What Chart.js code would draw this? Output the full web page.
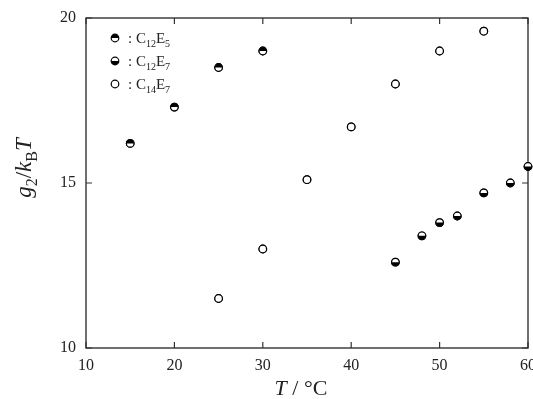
<!DOCTYPE html>
<html lang="en">
<head>
<meta charset="UTF-8">
<title>g2/kBT vs T</title>
<script src="https://cdn.jsdelivr.net/npm/chart.js@4"></script>
<style>
  html, body { margin: 0; padding: 0; background: #fff; }
</style>
</head>
<body>
<canvas id="chart" width="533" height="399"></canvas>
<script>
// data
const c12e5Temp = [15, 20, 25, 30];
const c12e5G2 = [16.2, 17.3, 18.5, 19.0];
const c12e7Temp = [45, 48, 50, 52, 55, 58, 60];
const c12e7G2 = [12.6, 13.4, 13.8, 14.0, 14.7, 15.0, 15.5];
const c14e7Temp = [25, 30, 35, 40, 45, 50, 55];
const c14e7G2 = [11.5, 13.0, 15.1, 16.7, 18.0, 19.0, 19.6];
const xTicks = [10, 20, 30, 40, 50, 60];
const yTicks = [10, 15, 20];
// legend labels: [main, sub, main, sub]
const seriesLabels = [
  ['C', '12', 'E', '5'],
  ['C', '12', 'E', '7'],
  ['C', '14', 'E', '7']
];
const halfFills = ['top', 'bottom', 'none'];

const SERIF = '"Liberation Serif", "DejaVu Serif", serif';
const INK = '#222';
const R = 3.8;

// one marker: white disc, optional black half, black ring
function drawMarker(ctx, x, y, fill) {
  ctx.save();
  ctx.fillStyle = '#fff';
  ctx.beginPath(); ctx.arc(x, y, R, 0, Math.PI * 2); ctx.fill();
  if (fill !== 'none') {
    ctx.fillStyle = '#000';
    ctx.beginPath();
    if (fill === 'top') ctx.arc(x, y, R, Math.PI, Math.PI * 2);
    else ctx.arc(x, y, R, 0, Math.PI);
    ctx.closePath(); ctx.fill();
  }
  ctx.strokeStyle = '#000';
  ctx.lineWidth = 1.2;
  ctx.beginPath(); ctx.arc(x, y, R, 0, Math.PI * 2); ctx.stroke();
  ctx.restore();
}

function toPoints(xs, ys) {
  return xs.map((x, i) => ({ x: x, y: ys[i] }));
}

// draws a run of text parts: {t, it, sub}
function drawRich(ctx, parts, x, y, size) {
  const fontFor = p => {
    const s = p.sub ? Math.round(size * 0.68) : size;
    return (p.it ? 'italic ' : '') + s + 'px ' + SERIF;
  };
  let w = 0;
  parts.forEach(p => { ctx.font = fontFor(p); w += ctx.measureText(p.t).width; });
  let cx = x - w / 2;
  ctx.textAlign = 'left';
  ctx.textBaseline = 'alphabetic';
  parts.forEach(p => {
    ctx.font = fontFor(p);
    ctx.fillText(p.t, cx, y + (p.sub ? size * 0.25 : 0));
    cx += ctx.measureText(p.t).width;
  });
}

const framePlugin = {
  id: 'frame',
  beforeDatasetsDraw(chart) {
    const { ctx, chartArea: a, scales } = chart;
    ctx.save();
    ctx.strokeStyle = '#333';
    ctx.lineWidth = 1.4;
    ctx.strokeRect(a.left, a.top, a.right - a.left, a.bottom - a.top);
    ctx.lineWidth = 1.2;
    ctx.beginPath();
    xTicks.forEach(v => {
      const px = scales.x.getPixelForValue(v);
      ctx.moveTo(px, a.bottom); ctx.lineTo(px, a.bottom - 6);
      ctx.moveTo(px, a.top); ctx.lineTo(px, a.top + 6);
    });
    yTicks.forEach(v => {
      const py = scales.y.getPixelForValue(v);
      ctx.moveTo(a.left, py); ctx.lineTo(a.left + 6, py);
      ctx.moveTo(a.right, py); ctx.lineTo(a.right - 6, py);
    });
    ctx.stroke();
    ctx.restore();
  },
  afterDatasetsDraw(chart) {
    // repaint points with their half fills at the positions chart.js computed
    chart.data.datasets.forEach((ds, di) => {
      chart.getDatasetMeta(di).data.forEach(pt => {
        drawMarker(chart.ctx, pt.x, pt.y, halfFills[di]);
      });
    });
  },
  afterDraw(chart) {
    const { ctx } = chart;
    ctx.save();
    ctx.fillStyle = INK;
    // x title
    drawRich(ctx, [
      { t: 'T', it: true }, { t: ' / ' }, { t: '°C' }
    ], 301, 395, 22);
    // y title, rotated
    ctx.save();
    ctx.translate(31, 168);
    ctx.rotate(-Math.PI / 2);
    drawRich(ctx, [
      { t: 'g', it: true }, { t: '2', sub: true }, { t: '/' },
      { t: 'k', it: true }, { t: 'B', sub: true }, { t: 'T', it: true }
    ], 0, 0, 23);
    ctx.restore();
    // legend
    const rows = [38, 61, 84];
    seriesLabels.forEach((lab, i) => {
      drawMarker(ctx, 115, rows[i], halfFills[i]);
      const parts = [
        { t: ': ' + lab[0] }, { t: lab[1], sub: true },
        { t: lab[2] }, { t: lab[3], sub: true }
      ];
      let w = 0;
      parts.forEach(p => {
        ctx.font = (p.sub ? 10 : 15) + 'px ' + SERIF;
        w += ctx.measureText(p.t).width;
      });
      ctx.fillStyle = INK;
      drawRich(ctx, parts, 128 + w / 2, rows[i] + 5, 15);
    });
    ctx.restore();
  }
};

const tickFont = { family: SERIF, size: 16 };
const pointOpts = {
  pointStyle: 'circle', pointRadius: R, pointBorderWidth: 1.2,
  pointBorderColor: '#000', pointBackgroundColor: '#fff', clip: false
};

new Chart(document.getElementById('chart'), {
  type: 'scatter',
  data: {
    datasets: [
      Object.assign({ label: 'C12E5', data: toPoints(c12e5Temp, c12e5G2) }, pointOpts),
      Object.assign({ label: 'C12E7', data: toPoints(c12e7Temp, c12e7G2) }, pointOpts),
      Object.assign({ label: 'C14E7', data: toPoints(c14e7Temp, c14e7G2) }, pointOpts)
    ]
  },
  options: {
    responsive: false,
    animation: false,
    events: [],
    layout: { autoPadding: false, padding: { top: 18, right: 5, left: 0, bottom: 0 } },
    plugins: { legend: { display: false }, tooltip: { enabled: false } },
    scales: {
      x: {
        type: 'linear', min: 10, max: 60,
        grid: { display: false, drawTicks: false },
        border: { display: false },
        afterBuildTicks: s => { s.ticks = xTicks.map(v => ({ value: v })); },
        afterFit: s => { s.height = 51; s.paddingLeft = 0; s.paddingRight = 0; },
        ticks: { font: tickFont, color: INK, padding: 8, maxRotation: 0 }
      },
      y: {
        type: 'linear', min: 10, max: 20,
        grid: { display: false, drawTicks: false },
        border: { display: false },
        afterBuildTicks: s => { s.ticks = yTicks.map(v => ({ value: v })); },
        afterFit: s => { s.width = 86; s.paddingTop = 0; s.paddingBottom = 0; },
        ticks: { font: tickFont, color: INK, padding: 10 }
      }
    }
  },
  plugins: [framePlugin]
});
</script>
</body>
</html>
